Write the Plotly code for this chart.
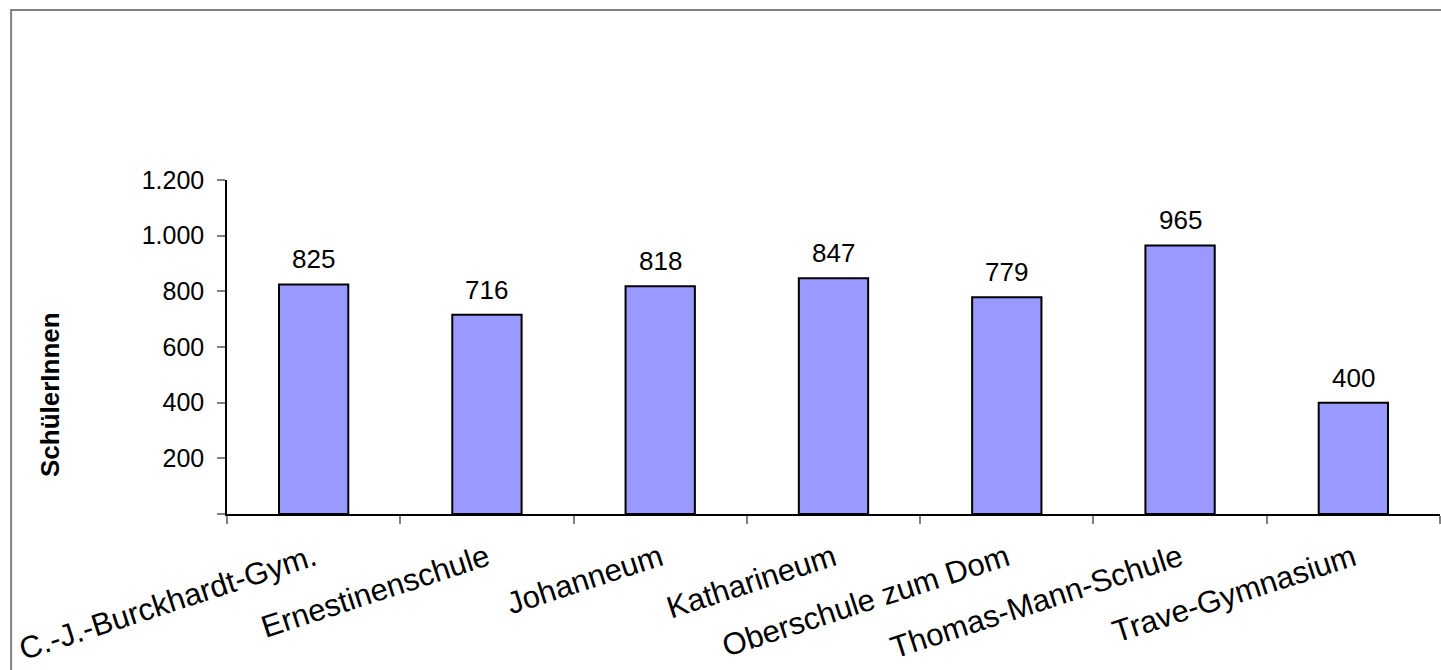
import plotly.graph_objects as go

schools = ["C.-J.-Burckhardt-Gym.", "Ernestinenschule", "Johanneum", "Katharineum",
           "Oberschule zum Dom", "Thomas-Mann-Schule", "Trave-Gymnasium"]
students = [825, 716, 818, 847, 779, 965, 400]
y_tickvals = [0, 200, 400, 600, 800, 1000, 1200]
y_ticktext = ["", "200", "400", "600", "800", "1.000", "1.200"]
y_title = "SchülerInnen"

FONT = "Liberation Sans, Arial, sans-serif"

fig = go.Figure()
fig.add_trace(go.Bar(
    x=schools, y=students, width=0.4,
    marker=dict(color="#9999FF", line=dict(color="#000000", width=2)),
    hoverinfo="x+y",
))

for s, v in zip(schools, students):
    fig.add_annotation(x=s, y=v, text=str(v), showarrow=False, yanchor="bottom",
                       yshift=8, font=dict(family=FONT, size=26, color="#000000"))

fig.add_annotation(xref="paper", yref="paper", x=-0.146, y=0.359, text="<b>%s</b>" % y_title,
                   textangle=-90, showarrow=False, xanchor="center", yanchor="middle",
                   font=dict(family=FONT, size=26, color="#000000"))

fig.add_shape(type="rect", xref="paper", yref="paper", x0=-0.178, x1=1.01, y0=-0.5, y1=1.509,
              line=dict(color="#808080", width=2), fillcolor="rgba(0,0,0,0)", layer="below")

fig.update_layout(
    width=1441, height=670,
    margin=dict(l=227, r=1, t=180, b=156, autoexpand=False),
    paper_bgcolor="#ffffff", plot_bgcolor="#ffffff",
    showlegend=False,
    font=dict(family=FONT, color="#000000"),
    bargap=0.6,
)
fig.update_xaxes(
    type="category", showline=True, linecolor="#000000", linewidth=2,
    ticks="outside", tickson="boundaries", ticklen=8, tickcolor="#808080", tickwidth=1.5,
    tickangle=-18, ticklabelstandoff=12,
    tickfont=dict(family=FONT, size=31, color="#000000"),
    showgrid=False, zeroline=False,
)
fig.update_yaxes(
    range=[0, 1200], tickvals=y_tickvals, ticktext=y_ticktext,
    showline=True, linecolor="#000000", linewidth=1.5,
    ticks="outside", ticklen=8, tickcolor="#808080", tickwidth=1.5,
    ticklabelstandoff=8,
    tickfont=dict(family=FONT, size=25, color="#000000"),
    showgrid=False, zeroline=False,
)

fig.write_html("out.html", config={"displayModeBar": False},
               post_script="document.body.style.margin='0';document.body.style.overflow='hidden';")
